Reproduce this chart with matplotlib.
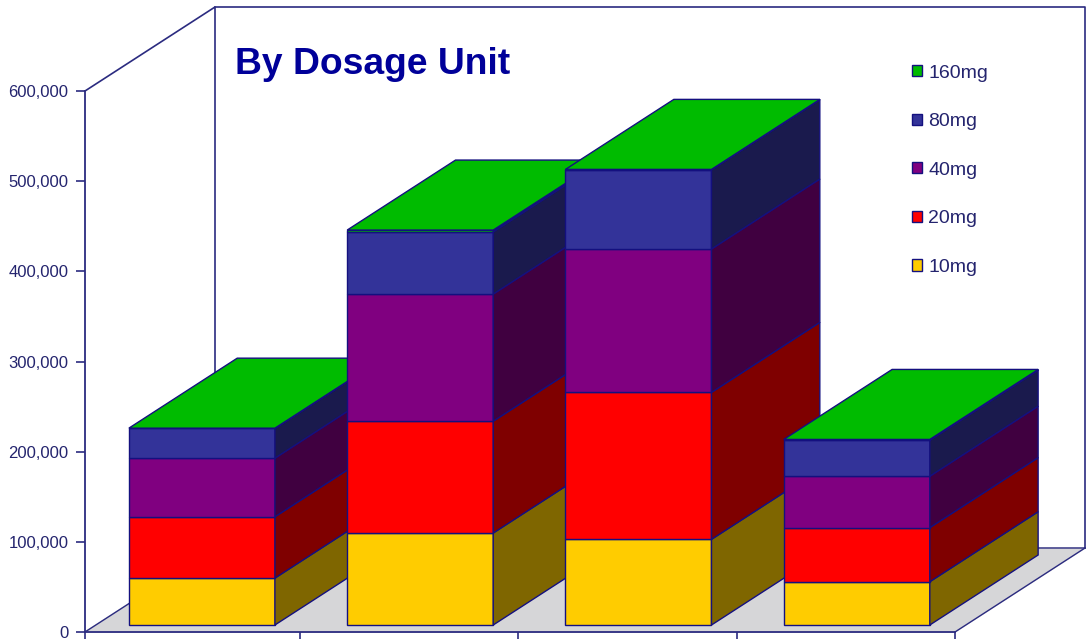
import matplotlib
matplotlib.use('Agg')
import matplotlib.pyplot as plt
from matplotlib.patches import Patch
from matplotlib.ticker import FuncFormatter

plt.rcParams['font.family'] = ['Liberation Sans', 'DejaVu Sans']

# values per group, bottom to top of the stack
groups = [0, 1, 2, 3]
doses = ['10mg', '20mg', '40mg', '80mg', '160mg']
dose_10 = [52000, 102000, 95000, 48000]
dose_20 = [68000, 124000, 163000, 60000]
dose_40 = [65000, 141000, 159000, 57000]
dose_80 = [33000, 69000, 88000, 40000]
dose_160 = [300, 2000, 300, 800]
series = [dose_10, dose_20, dose_40, dose_80, dose_160]
yticks = [0, 100000, 200000, 300000, 400000, 500000, 600000]
xticks = [0, 0.988, 1.99, 3.0, 4]

front_colors = ['#FFCC00', '#FF0000', '#800080', '#333399', '#00BB00']
side_colors = ['#7F6600', '#7F0000', '#400040', '#1A1A4D', '#005E00']
edge = '#14107F'
line = '#2B2B80'
txt = '#24246E'

W, H = 1086, 639
fig = plt.figure(figsize=(W / 100, H / 100), dpi=100)
ax = fig.add_axes([85 / W, 7 / H, 870 / W, 541 / H])
ax.set_xlim(0, 4)
ax.set_ylim(0, 600000)

# 3d depth of the chart box, in data units
depth_x = 130 / (870 / 4)
depth_y = 84 / (541 / 600000)

# floor and back wall
ax.fill([0, 4, 4 + depth_x, depth_x], [0, 0, depth_y, depth_y], color='#D6D6D8', clip_on=False, zorder=1)
ax.plot([0, depth_x, 4 + depth_x], [0, depth_y, depth_y], color=line, lw=1, clip_on=False, zorder=1)
ax.plot([4, 4 + depth_x], [0, depth_y], color=line, lw=1, clip_on=False, zorder=1)
ax.plot([0, depth_x, depth_x], [600000, 600000 + depth_y, depth_y], color=line, lw=1.2, clip_on=False, zorder=1)
ax.plot([depth_x, 4 + depth_x, 4 + depth_x], [600000 + depth_y, 600000 + depth_y, depth_y],
        color=line, lw=1.2, clip_on=False, zorder=1)

# bars sit a little in from the front of the floor
f0 = 7 / 84
f1 = 77 / 84
bar_w = 146 / (870 / 4)
step = 218.3 / (870 / 4)
x0 = depth_x * f0
y0 = depth_y * f0
dx = depth_x * (f1 - f0)
dy = depth_y * (f1 - f0)

z = 3
for g in groups:
    left = g * step + 0.152 + x0
    right = left + bar_w
    bottom = y0
    for s, vals in enumerate(series):
        v = vals[g]
        ax.bar(left, v, bar_w, bottom=bottom, align='edge', color=front_colors[s], edgecolor=edge,
               linewidth=1, clip_on=False, zorder=z)
        ax.fill([right, right + dx, right + dx, right],
                [bottom, bottom + dy, bottom + v + dy, bottom + v],
                facecolor=side_colors[s], edgecolor=edge, linewidth=1, clip_on=False, zorder=z)
        bottom += v
    ax.fill([left, right, right + dx, left + dx], [bottom, bottom, bottom + dy, bottom + dy],
            facecolor=front_colors[-1], edgecolor=edge, linewidth=1, clip_on=False, zorder=z)
    z += 1

ax.spines['top'].set_visible(False)
ax.spines['right'].set_visible(False)
for sp in ['left', 'bottom']:
    ax.spines[sp].set_color(line)
    ax.spines[sp].set_linewidth(1.3)
ax.set_xticks(xticks)
ax.set_xticklabels([])
ax.set_yticks(yticks)
ax.yaxis.set_major_formatter(FuncFormatter(lambda v, p: f'{int(v):,}'))
ax.tick_params(axis='y', length=6.5, width=1.2, color=line, labelcolor=txt, labelsize=12, pad=5.5)
ax.tick_params(axis='x', length=6, width=1.2, color=line)

fig.text(235 / W, 1 - 64 / H, 'By Dosage Unit', fontsize=26.8, fontweight='bold', color='#000099',
         va='center', ha='left', zorder=20)

handles = [Patch(facecolor=front_colors[i], edgecolor=edge, linewidth=1, label=doses[i]) for i in range(4, -1, -1)]
leg = fig.legend(handles=handles, loc='upper left', bbox_to_anchor=(912 / W, 1 - 64.5 / H), borderaxespad=0,
                 borderpad=0, frameon=False, fontsize=14, labelspacing=1.625, handlelength=0.52,
                 handleheight=0.52, handletextpad=0.32, labelcolor=txt)
leg.set_zorder(20)

fig.savefig('out.png', dpi=100)
